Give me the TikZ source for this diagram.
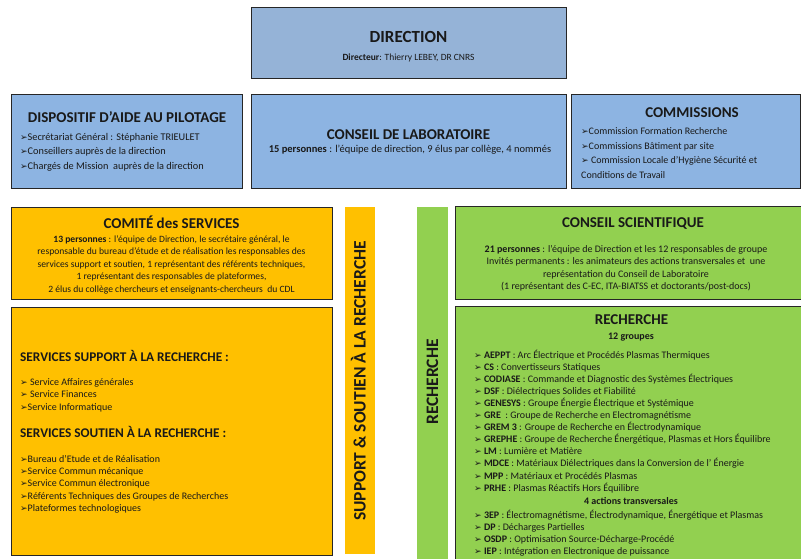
\documentclass[tikz,border=0pt]{standalone}
\usepackage{fontspec}
\setmainfont{Carlito}
\newfontfamily\dejavu{DejaVu Sans}
\definecolor{dirblue}{RGB}{149,179,215}
\definecolor{boxblue}{RGB}{141,180,226}
\definecolor{gold}{RGB}{255,192,0}
\definecolor{lgreen}{RGB}{146,208,80}
\definecolor{ink}{RGB}{25,25,25}
\newcommand\arr{{\dejavu\fontsize{9}{9}\selectfont\raisebox{0pt}{➢}}}
\tikzset{
  bx/.style={draw=black!85, line width=1.1pt, inner sep=0, anchor=north west},
  strip/.style={inner sep=0, anchor=north west},
  ttl/.style={inner sep=0, text=ink, font=\fontsize{15}{15}\selectfont\bfseries, text height=9.7pt, text depth=0pt},
  vttl/.style={inner sep=0, text=ink, rotate=90, font=\fontsize{17.5}{17.5}\selectfont\bfseries, text height=11.3pt, text depth=0pt},
  stl/.style={inner sep=0, text=ink, anchor=west, font=\fontsize{13.3}{13.3}\selectfont\bfseries, text height=8.6pt, text depth=0pt},
  txt/.style={inner sep=0, text=ink, font=\fontsize{10}{12}\selectfont, text height=6pt, text depth=0pt},
  ltxt/.style={txt, anchor=west},
}
\begin{document}
\begin{tikzpicture}[x=1pt,y=-1pt]
\clip (0,0) rectangle (801,558);
\fill[white] (0,0) rectangle (801,558);
% boxes
\node[bx, fill=dirblue, minimum width=315pt, minimum height=71pt] (dir) at (251,7) {};
\node[bx, fill=boxblue, minimum width=231pt, minimum height=94pt] (dap) at (11,94) {};
\node[bx, fill=boxblue, minimum width=315pt, minimum height=94pt] (cdl) at (251,94) {};
\node[bx, fill=boxblue, minimum width=229pt, minimum height=94pt] (com) at (571,94) {};
\node[bx, fill=gold, minimum width=321pt, minimum height=92pt] (cds) at (11,207) {};
\node[bx, fill=gold, minimum width=321pt, minimum height=248pt] (srv) at (11,307) {};
\node[strip, fill=gold, minimum width=30pt, minimum height=347pt] (ystrip) at (345,207) {};
\node[strip, fill=lgreen, minimum width=31pt, minimum height=355pt] (gstrip) at (417,207) {};
\node[bx, fill=lgreen, minimum width=360pt, minimum height=93pt] (csc) at (455,206) {};
\node[bx, fill=lgreen, minimum width=360pt, minimum height=270pt] (rec) at (455,306) {};

% DIRECTION
\node[ttl, font=\fontsize{17}{17}\selectfont\bfseries, text height=11pt] (dirT) at (408.5,37) {DIRECTION};
\node[txt, font=\fontsize{9.5}{11}\selectfont] (dirS) at (408.5,57) {\textbf{Directeur}: Thierry LEBEY, DR CNRS};

% DISPOSITIF
\node[ttl] (dapT) at (127,118) {DISPOSITIF D’AIDE AU PILOTAGE};
\node[ltxt, font=\fontsize{10.3}{12}\selectfont] (dap1) at (20,137) {\arr Secrétariat Général : Stéphanie TRIEULET};
\node[ltxt, font=\fontsize{10.3}{12}\selectfont] (dap2) at (20,151.5) {\arr Conseillers auprès de la direction};
\node[ltxt, font=\fontsize{10.3}{12}\selectfont] (dap3) at (20,166) {\arr Chargés de Mission\ \ auprès de la direction};

% CONSEIL DE LABORATOIRE
\node[ttl] (cdlT) at (408.5,135) {CONSEIL DE LABORATOIRE};
\node[txt, font=\fontsize{10.5}{12}\selectfont] (cdlS) at (410,149) {\textbf{15 personnes} : l’équipe de direction, 9 élus par collège, 4 nommés};

% COMMISSIONS
\node[ttl] (comT) at (692,113) {COMMISSIONS};
\node[ltxt] (com1) at (581,131) {\arr Commission Formation Recherche};
\node[ltxt] (com2) at (581,146) {\arr Commissions Bâtiment par site};
\node[ltxt] (com3) at (581,160.5) {\arr\ Commission Locale d’Hygiène Sécurité et};
\node[ltxt] (com4) at (581,175) {Conditions de Travail};

% COMITE des SERVICES
\node[ttl, text height=10.5pt] (cdsT) at (171.5,223) {COMITÉ des SERVICES};
\node[txt, font=\fontsize{9.6}{12}\selectfont] (cds1) at (171.5,239) {\textbf{13 personnes} : l’équipe de Direction, le secrétaire général, le};
\node[txt, font=\fontsize{9.6}{12}\selectfont] (cds2) at (171.5,251.5) {responsable du bureau d’étude et de réalisation les responsables des};
\node[txt, font=\fontsize{9.6}{12}\selectfont] (cds3) at (171.5,264) {services support et soutien, 1 représentant des référents techniques,};
\node[txt, font=\fontsize{9.6}{12}\selectfont] (cds4) at (171.5,276.5) {1 représentant des responsables de plateformes,};
\node[txt, font=\fontsize{9.6}{12}\selectfont] (cds5) at (171.5,289) {2 élus du collège chercheurs et enseignants-chercheurs\ \ du CDL};

% SERVICES
\node[stl] (srvA) at (20,357) {SERVICES SUPPORT À LA RECHERCHE :};
\node[ltxt] (srv1) at (20,382) {\arr\ Service Affaires générales};
\node[ltxt] (srv2) at (20,394.5) {\arr\ Service Finances};
\node[ltxt] (srv3) at (20,407) {\arr Service Informatique};
\node[stl] (srvB) at (20,433.5) {SERVICES SOUTIEN À LA RECHERCHE :};
\node[ltxt] (srv4) at (20,459) {\arr Bureau d’Etude et de Réalisation};
\node[ltxt] (srv5) at (20,471.3) {\arr Service Commun mécanique};
\node[ltxt] (srv6) at (20,483.6) {\arr Service Commun électronique};
\node[ltxt] (srv7) at (20,496) {\arr Référents Techniques des Groupes de Recherches};
\node[ltxt] (srv8) at (20,508.3) {\arr Plateformes technologiques};

% vertical labels
\node[vttl] (ystripT) at (360,381) {SUPPORT \& SOUTIEN À LA RECHERCHE};
\node[vttl] (gstripT) at (432.5,382) {RECHERCHE};

% CONSEIL SCIENTIFIQUE
\node[ttl] (cscT) at (633,223) {CONSEIL SCIENTIFIQUE};
\node[txt] (csc1) at (626,249) {\textbf{21 personnes} : l’équipe de Direction et les 12 responsables de groupe};
\node[txt] (csc2) at (626,261.5) {Invités permanents : les animateurs des actions transversales et\ \ une};
\node[txt] (csc3) at (626,274) {représentation du Conseil de Laboratoire};
\node[txt] (csc4) at (626,286.5) {(1 représentant des C-EC, ITA-BIATSS et doctorants/post-docs)};

% RECHERCHE
\node[ttl] (recT) at (631.5,320) {RECHERCHE};
\node[txt, font=\fontsize{10}{12}\selectfont\bfseries] (recS) at (631,336) {12 groupes};
\foreach \t [count=\i] in {
  {\textbf{AEPPT} : Arc Électrique et Procédés Plasmas Thermiques},
  {\textbf{CS} : Convertisseurs Statiques},
  {\textbf{CODIASE} : Commande et Diagnostic des Systèmes Électriques},
  {\textbf{DSF} : Diélectriques Solides et Fiabilité},
  {\textbf{GENESYS} : Groupe Énergie Électrique et Systémique},
  {\textbf{GRE}\ \ : Groupe de Recherche en Electromagnétisme},
  {\textbf{GREM 3} : Groupe de Recherche en Électrodynamique},
  {\textbf{GREPHE} : Groupe de Recherche Énergétique, Plasmas et Hors Équilibre},
  {\textbf{LM} : Lumière et Matière},
  {\textbf{MDCE} : Matériaux Diélectriques dans la Conversion de l’ Énergie},
  {\textbf{MPP} : Matériaux et Procédés Plasmas},
  {\textbf{PRHE} : Plasmas Réactifs Hors Équilibre}}
  \node[ltxt] (rg\i) at (474,{355+12.1*(\i-1)}) {\arr\ \t};
\node[txt, font=\fontsize{10}{12}\selectfont\bfseries] (recA) at (631,501) {4 actions transversales};
\foreach \t [count=\i] in {
  {\textbf{3EP} : Électromagnétisme, Électrodynamique, Énergétique et Plasmas},
  {\textbf{DP} : Décharges Partielles},
  {\textbf{OSDP} : Optimisation Source-Décharge-Procédé},
  {\textbf{IEP} : Intégration en Electronique de puissance}}
  \node[ltxt] (ra\i) at (474,{515+12*(\i-1)}) {\arr\ \t};
\end{tikzpicture}
\end{document}
